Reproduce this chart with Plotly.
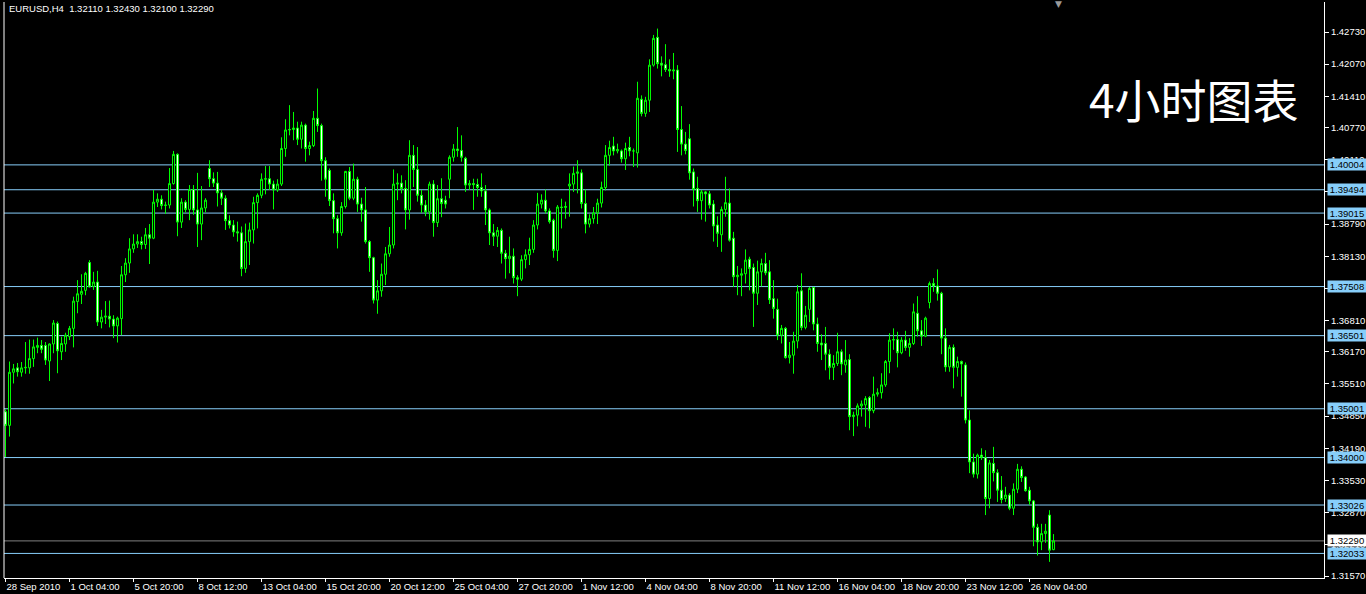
import plotly.graph_objects as go

# ---- OHLC data (EURUSD H4), one value per bar ----
opens = [1.3494,1.3466,1.3575,1.3584,1.3575,1.3584,1.3584,1.3603,1.3626,1.3630,
1.3630,1.3598,1.3633,1.3675,1.3617,1.3633,1.3648,1.3665,1.3720,1.3735,
1.3743,1.3800,1.3751,1.3760,1.3678,1.3688,1.3690,1.3684,1.3670,1.3685,
1.3775,1.3799,1.3828,1.3838,1.3843,1.3837,1.3857,1.3850,1.3924,1.3930,
1.3917,1.3918,1.3962,1.4022,1.3883,1.3924,1.3909,1.3950,1.3908,1.3879,
1.3912,1.3993,1.3972,1.3963,1.3943,1.3932,1.3886,1.3877,1.3863,1.3861,
1.3788,1.3843,1.3867,1.3923,1.3938,1.3971,1.3972,1.3961,1.3949,1.3961,
1.4034,1.4072,1.4073,1.4076,1.4053,1.4082,1.4034,1.4040,1.4096,1.4081,
1.4009,1.3989,1.3927,1.3890,1.3861,1.3915,1.3987,1.3932,1.3971,1.3920,
1.3908,1.3843,1.3810,1.3723,1.3742,1.3776,1.3818,1.3836,1.3961,1.3963,
1.3952,1.3908,1.4020,1.3991,1.3938,1.3918,1.3904,1.3961,1.3882,1.3931,
1.3928,1.3971,1.4016,1.4033,1.4030,1.4014,1.3959,1.3962,1.3960,1.3954,
1.3947,1.3908,1.3861,1.3854,1.3866,1.3819,1.3808,1.3813,1.3769,1.3766,
1.3806,1.3816,1.3827,1.3877,1.3920,1.3928,1.3906,1.3887,1.3825,1.3914,
1.3913,1.3957,1.3961,1.3983,1.3984,1.3921,1.3879,1.3890,1.3902,1.3922,
1.3954,1.4020,1.4039,1.4029,1.4029,1.4013,1.4036,1.4029,1.4025,1.4135,
1.4106,1.4133,1.4205,1.4262,1.4209,1.4206,1.4196,1.4193,1.4195,1.4073,
1.4043,1.4054,1.3986,1.3952,1.3927,1.3945,1.3941,1.3920,1.3877,1.3857,
1.3909,1.3922,1.3850,1.3771,1.3774,1.3777,1.3807,1.3790,1.3737,1.3781,
1.3798,1.3781,1.3726,1.3704,1.3651,1.3665,1.3605,1.3610,1.3639,1.3742,
1.3667,1.3704,1.3749,1.3674,1.3635,1.3634,1.3612,1.3585,1.3593,1.3617,
1.3590,1.3601,1.3484,1.3487,1.3506,1.3508,1.3523,1.3496,1.3530,1.3533,
1.3549,1.3597,1.3641,1.3642,1.3615,1.3641,1.3626,1.3634,1.3696,1.3660,
1.3649,1.3718,1.3757,1.3752,1.3737,1.3645,1.3586,1.3626,1.3585,1.3597,
1.3590,1.3477,1.3391,1.3366,1.3405,1.3400,1.3316,1.3388,1.3369,1.3333,
1.3316,1.3323,1.3296,1.3335,1.3376,1.3360,1.3333,1.3311,1.3257,1.3227,
1.3244,1.3282,1.3211]
highs = [1.3499,1.3597,1.3592,1.3594,1.3596,1.3637,1.3642,1.3642,1.3646,1.3641,
1.3637,1.3634,1.3682,1.3679,1.3648,1.3656,1.3670,1.3730,1.3764,1.3776,
1.3781,1.3805,1.3781,1.3783,1.3703,1.3721,1.3722,1.3692,1.3689,1.3793,
1.3809,1.3850,1.3858,1.3858,1.3853,1.3871,1.3879,1.3949,1.3942,1.3938,
1.3925,1.3994,1.4029,1.4024,1.3932,1.3928,1.3959,1.3959,1.3984,1.3957,
1.3932,1.4010,1.3985,1.3986,1.3949,1.3938,1.3897,1.3887,1.3884,1.3874,
1.3880,1.3882,1.3935,1.3942,1.3983,1.3998,1.3998,1.3968,1.3971,1.4057,
1.4094,1.4123,1.4109,1.4089,1.4089,1.4085,1.4048,1.4111,1.4157,1.4085,
1.4016,1.3993,1.3942,1.3897,1.3924,1.3988,1.3996,1.4003,1.3976,1.3933,
1.3955,1.3846,1.3812,1.3764,1.3798,1.3832,1.3873,1.3991,1.3983,1.3979,
1.3969,1.4051,1.4041,1.4037,1.3949,1.3928,1.3966,1.3969,1.3959,1.3973,
1.3937,1.4020,1.4043,1.4078,1.4061,1.4017,1.3969,1.3972,1.3972,1.3983,
1.3959,1.3911,1.3879,1.3873,1.3870,1.3826,1.3853,1.3829,1.3774,1.3815,
1.3827,1.3851,1.3887,1.3943,1.3940,1.3950,1.3911,1.3890,1.3918,1.3931,
1.3925,1.3983,1.3997,1.4010,1.3991,1.3950,1.3899,1.3914,1.3931,1.3966,
1.4041,1.4050,1.4058,1.4044,1.4032,1.4046,1.4058,1.4034,1.4171,1.4143,
1.4140,1.4217,1.4267,1.4280,1.4223,1.4248,1.4217,1.4230,1.4205,1.4121,
1.4068,1.4084,1.3993,1.3976,1.3949,1.3947,1.3947,1.3928,1.3895,1.3915,
1.3976,1.3952,1.3863,1.3793,1.3788,1.3827,1.3812,1.3798,1.3804,1.3808,
1.3820,1.3805,1.3764,1.3726,1.3672,1.3668,1.3637,1.3658,1.3754,1.3778,
1.3711,1.3750,1.3750,1.3687,1.3653,1.3668,1.3622,1.3610,1.3656,1.3622,
1.3641,1.3612,1.3494,1.3511,1.3517,1.3526,1.3526,1.3566,1.3542,1.3573,
1.3600,1.3655,1.3665,1.3658,1.3647,1.3660,1.3645,1.3716,1.3731,1.3682,
1.3689,1.3761,1.3768,1.3786,1.3740,1.3665,1.3631,1.3632,1.3607,1.3599,
1.3595,1.3497,1.3408,1.3408,1.3419,1.3415,1.3395,1.3422,1.3376,1.3362,
1.3340,1.3327,1.3347,1.3387,1.3382,1.3362,1.3340,1.3313,1.3264,1.3264,
1.3264,1.3292,1.3243]
lows = [1.3401,1.3443,1.3552,1.3566,1.3566,1.3572,1.3572,1.3586,1.3614,1.3614,
1.3590,1.3557,1.3614,1.3573,1.3600,1.3617,1.3641,1.3626,1.3696,1.3715,
1.3733,1.3749,1.3744,1.3670,1.3665,1.3674,1.3667,1.3645,1.3636,1.3651,
1.3760,1.3779,1.3820,1.3830,1.3827,1.3828,1.3797,1.3848,1.3914,1.3909,
1.3900,1.3911,1.3960,1.3854,1.3871,1.3903,1.3887,1.3898,1.3832,1.3846,
1.3903,1.3955,1.3955,1.3915,1.3918,1.3867,1.3870,1.3853,1.3843,1.3772,
1.3779,1.3795,1.3839,1.3870,1.3932,1.3940,1.3949,1.3909,1.3945,1.3957,
1.4017,1.4061,1.4051,1.4041,1.4034,1.4007,1.4020,1.4037,1.4068,1.3968,
1.3935,1.3916,1.3860,1.3829,1.3855,1.3911,1.3928,1.3928,1.3904,1.3884,
1.3839,1.3781,1.3716,1.3695,1.3730,1.3754,1.3812,1.3829,1.3928,1.3942,
1.3868,1.3888,1.3955,1.3925,1.3902,1.3895,1.3888,1.3853,1.3873,1.3893,
1.3911,1.3932,1.4007,1.4017,1.4007,1.3945,1.3949,1.3908,1.3935,1.3935,
1.3877,1.3836,1.3834,1.3832,1.3798,1.3767,1.3778,1.3757,1.3731,1.3762,
1.3788,1.3795,1.3820,1.3868,1.3911,1.3901,1.3880,1.3810,1.3803,1.3870,
1.3890,1.3894,1.3945,1.3942,1.3911,1.3860,1.3872,1.3880,1.3879,1.3913,
1.3948,1.3999,1.4020,1.4024,1.4005,1.3990,1.4018,1.3996,1.3995,1.4100,
1.4099,1.4109,1.4202,1.4198,1.4182,1.4191,1.4181,1.4176,1.4027,1.4020,
1.4022,1.3970,1.3915,1.3904,1.3888,1.3884,1.3911,1.3843,1.3832,1.3822,
1.3894,1.3843,1.3750,1.3733,1.3731,1.3757,1.3743,1.3668,1.3713,1.3751,
1.3774,1.3715,1.3685,1.3641,1.3634,1.3603,1.3593,1.3572,1.3624,1.3661,
1.3663,1.3678,1.3661,1.3617,1.3600,1.3579,1.3560,1.3559,1.3588,1.3569,
1.3574,1.3456,1.3444,1.3464,1.3484,1.3463,1.3460,1.3491,1.3525,1.3521,
1.3545,1.3573,1.3621,1.3585,1.3612,1.3619,1.3607,1.3631,1.3648,1.3629,
1.3647,1.3706,1.3740,1.3722,1.3612,1.3576,1.3576,1.3542,1.3566,1.3525,
1.3470,1.3368,1.3359,1.3357,1.3395,1.3282,1.3296,1.3351,1.3309,1.3306,
1.3309,1.3292,1.3282,1.3327,1.3350,1.3330,1.3303,1.3218,1.3199,1.3210,
1.3225,1.3186,1.3210]
closes = [1.3466,1.3575,1.3582,1.3576,1.3584,1.3585,1.3603,1.3627,1.3630,1.3622,
1.3600,1.3633,1.3676,1.3619,1.3634,1.3651,1.3665,1.3721,1.3736,1.3741,
1.3778,1.3750,1.3760,1.3678,1.3688,1.3690,1.3684,1.3670,1.3686,1.3775,
1.3799,1.3828,1.3838,1.3843,1.3837,1.3857,1.3850,1.3924,1.3930,1.3917,
1.3918,1.3962,1.4022,1.3883,1.3924,1.3909,1.3950,1.3908,1.3879,1.3912,
1.3928,1.3972,1.3963,1.3943,1.3932,1.3886,1.3877,1.3863,1.3861,1.3788,
1.3843,1.3867,1.3923,1.3938,1.3971,1.3972,1.3961,1.3949,1.3961,1.4034,
1.4072,1.4073,1.4076,1.4053,1.4082,1.4034,1.4040,1.4096,1.4081,1.4009,
1.3971,1.3927,1.3890,1.3861,1.3915,1.3987,1.3932,1.3971,1.3920,1.3908,
1.3843,1.3810,1.3723,1.3742,1.3776,1.3818,1.3836,1.3961,1.3963,1.3952,
1.3908,1.4020,1.3991,1.3938,1.3918,1.3904,1.3961,1.3882,1.3931,1.3921,
1.3920,1.4016,1.4033,1.4030,1.4016,1.3959,1.3962,1.3960,1.3954,1.3947,
1.3908,1.3861,1.3854,1.3866,1.3819,1.3808,1.3813,1.3769,1.3766,1.3806,
1.3816,1.3827,1.3877,1.3920,1.3928,1.3906,1.3884,1.3825,1.3914,1.3913,
1.3915,1.3961,1.3983,1.3986,1.3921,1.3879,1.3890,1.3902,1.3922,1.3954,
1.4020,1.4036,1.4029,1.4032,1.4013,1.4034,1.4029,1.4029,1.4137,1.4106,
1.4133,1.4205,1.4260,1.4208,1.4205,1.4196,1.4193,1.4195,1.4073,1.4043,
1.4030,1.3984,1.3950,1.3927,1.3945,1.3941,1.3918,1.3875,1.3860,1.3909,
1.3923,1.3846,1.3771,1.3774,1.3777,1.3805,1.3788,1.3737,1.3781,1.3798,
1.3779,1.3724,1.3706,1.3651,1.3665,1.3605,1.3610,1.3639,1.3740,1.3667,
1.3692,1.3747,1.3674,1.3634,1.3631,1.3612,1.3585,1.3593,1.3617,1.3592,
1.3600,1.3484,1.3487,1.3506,1.3510,1.3521,1.3496,1.3530,1.3533,1.3549,
1.3597,1.3641,1.3642,1.3615,1.3641,1.3626,1.3634,1.3699,1.3660,1.3649,
1.3686,1.3757,1.3752,1.3737,1.3645,1.3586,1.3626,1.3585,1.3597,1.3592,
1.3477,1.3391,1.3366,1.3405,1.3400,1.3316,1.3389,1.3369,1.3333,1.3314,
1.3323,1.3296,1.3335,1.3376,1.3359,1.3332,1.3311,1.3257,1.3227,1.3244,
1.3249,1.3210,1.3229]

bar_index = list(range(len(closes)))

# time axis labels (every 16 bars)
time_tick_bars = [0, 16, 32, 48, 64, 80, 96, 112, 128, 144, 160, 176, 192, 208, 224, 240, 256]
time_tick_labels = ["28 Sep 2010", "1 Oct 04:00", "5 Oct 20:00", "8 Oct 12:00", "13 Oct 04:00",
                    "15 Oct 20:00", "20 Oct 12:00", "25 Oct 04:00", "27 Oct 20:00", "1 Nov 12:00",
                    "4 Nov 04:00", "8 Nov 20:00", "11 Nov 12:00", "16 Nov 04:00", "18 Nov 20:00",
                    "23 Nov 12:00", "26 Nov 04:00"]

price_ticks = [1.42730, 1.42070, 1.41410, 1.40770, 1.40110, 1.39450, 1.38790, 1.38130, 1.37470,
               1.36810, 1.36170, 1.35510, 1.34850, 1.34190, 1.33530, 1.32870, 1.32210, 1.31570]

level_lines = [1.40004, 1.39494, 1.39015, 1.37508, 1.36501, 1.35001, 1.34000, 1.33026, 1.32033]
bid_price = 1.32290

title_text = "EURUSD,H4  1.32110 1.32430 1.32100 1.32290"
big_label = "4小时图表"

LIME = "#00FF00"
LEVEL_COLOR = "#87CEFA"
FONT = "Tahoma, 'Liberation Sans', Arial, sans-serif"
FS = 9.5

fig = go.Figure()
fig.add_trace(go.Candlestick(
    x=bar_index, open=opens, high=highs, low=lows, close=closes,
    increasing=dict(line=dict(color=LIME, width=1), fillcolor="#000000"),
    decreasing=dict(line=dict(color=LIME, width=1), fillcolor="#FFFFFF"),
    whiskerwidth=0, hoverinfo="skip", showlegend=False,
))

shapes = []
for lv in level_lines:
    shapes.append(dict(type="line", xref="paper", x0=0, x1=1, yref="y", y0=lv, y1=lv,
                       line=dict(color=LEVEL_COLOR, width=1), layer="below"))
shapes.append(dict(type="line", xref="paper", x0=0, x1=1, yref="y", y0=bid_price, y1=bid_price,
                   line=dict(color="#808080", width=1), layer="below"))
# left frame line
shapes.append(dict(type="line", xref="paper", x0=0, x1=0, yref="paper", y0=0, y1=1,
                   line=dict(color="#FFFFFF", width=1)))

annotations = []
for lv in level_lines:
    annotations.append(dict(xref="paper", x=1, xanchor="left", xshift=3, yref="y", y=lv,
                            yanchor="middle", text=f"{lv:.5f}", showarrow=False,
                            bgcolor=LEVEL_COLOR, font=dict(color="#000000", size=FS, family=FONT),
                            width=38, height=11, borderpad=0, align="center"))
annotations.append(dict(xref="paper", x=1, xanchor="left", xshift=3, yref="y", y=bid_price,
                        yanchor="middle", text=f"{bid_price:.5f}", showarrow=False,
                        bgcolor="#FFFFFF", font=dict(color="#000000", size=FS, family=FONT),
                        width=38, height=11, borderpad=0, align="center"))
annotations.append(dict(xref="paper", x=0, xanchor="left", xshift=3, yref="paper", y=1,
                        yanchor="top", yshift=1, text=title_text, showarrow=False,
                        font=dict(color="#FFFFFF", size=FS, family=FONT)))
annotations.append(dict(xref="paper", x=0.9015, xanchor="center", yref="paper", y=0.828,
                        yanchor="middle", yshift=3, text=big_label, showarrow=False,
                        font=dict(color="#FFFFFF", size=46, family="Noto Sans CJK SC")))
annotations.append(dict(xref="paper", x=0.7985, xanchor="center", yref="paper", y=1,
                        yanchor="top", yshift=5, text="▼", showarrow=False,
                        font=dict(color="#9a9a9a", size=9, family="DejaVu Sans")))

fig.update_layout(
    width=1366, height=594,
    paper_bgcolor="#000000", plot_bgcolor="#000000",
    margin=dict(l=4, r=42, t=2, b=16, autoexpand=False),
    shapes=shapes, annotations=annotations,
    showlegend=False,
    xaxis=dict(range=[-0.375, 329.625], rangeslider=dict(visible=False),
               tickmode="array", tickvals=time_tick_bars, ticktext=time_tick_labels,
               ticks="outside", ticklen=3, tickcolor="#FFFFFF", ticklabelposition="outside right",
               tickangle=0, automargin=False,
               tickfont=dict(color="#FFFFFF", size=FS, family=FONT),
               showline=True, linecolor="#FFFFFF", linewidth=1,
               showgrid=False, zeroline=False, fixedrange=True),
    yaxis=dict(range=[1.31529, 1.433454], side="right", automargin=False,
               tickmode="array", tickvals=price_ticks, ticktext=[f"{v:.5f}" for v in price_ticks],
               ticks="outside", ticklen=4, tickcolor="#FFFFFF",
               tickfont=dict(color="#FFFFFF", size=FS, family=FONT),
               showline=True, linecolor="#FFFFFF", linewidth=1,
               showgrid=False, zeroline=False, fixedrange=True),
)

fig.write_html("out.html", config={"displayModeBar": False},
               post_script="document.body.style.margin='0';document.body.style.background='#000';")
